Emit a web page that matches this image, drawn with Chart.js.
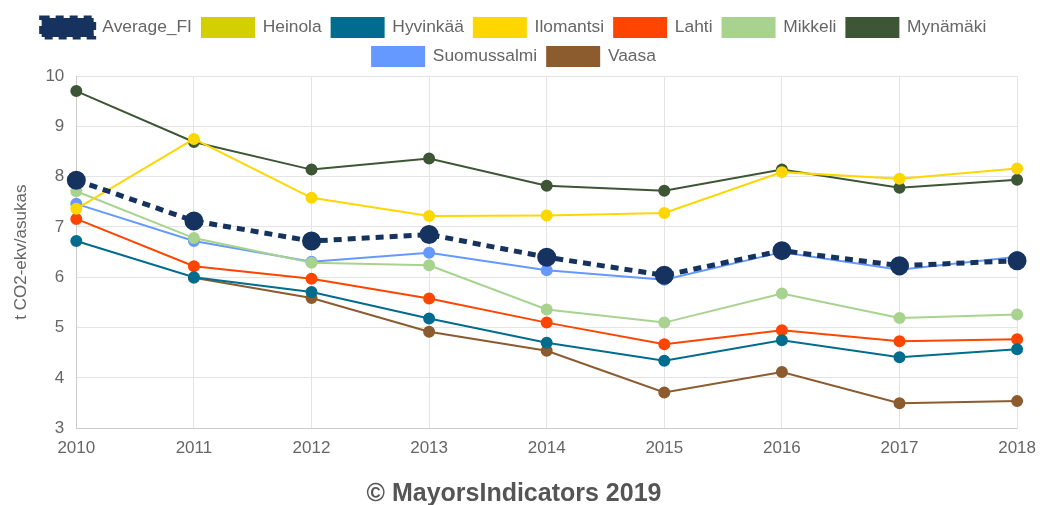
<!DOCTYPE html>
<html>
<head>
<meta charset="utf-8">
<script src="https://cdn.jsdelivr.net/npm/chart.js@4/dist/chart.umd.min.js"></script>
<style>
  body { margin: 0; background: #fff; }
  #wrap { width: 1040px; height: 505px; }
</style>
</head>
<body>
<div id="wrap"><canvas id="chart" width="1040" height="505"></canvas></div>
<script>
// Years on the x axis
const years = ['2010', '2011', '2012', '2013', '2014', '2015', '2016', '2017', '2018'];

// Emissions per resident (t CO2-ekv/asukas)
const averageFI   = [7.93, 7.12, 6.72, 6.85, 6.40, 6.04, 6.53, 6.23, 6.33];
const heinola     = [null, null, null, null, null, null, null, null, null];
const hyvinkaa    = [6.72, 6.00, 5.71, 5.18, 4.70, 4.34, 4.75, 4.41, 4.57];
const ilomantsi   = [7.36, 8.75, 7.58, 7.22, 7.23, 7.28, 8.09, 7.96, 8.16];
const lahti       = [7.16, 6.22, 5.97, 5.58, 5.10, 4.67, 4.95, 4.73, 4.77];
const mikkeli     = [7.71, 6.78, 6.29, 6.24, 5.36, 5.10, 5.68, 5.19, 5.26];
const mynamaki    = [9.70, 8.69, 8.14, 8.36, 7.82, 7.72, 8.14, 7.78, 7.94];
const suomussalmi = [7.46, 6.72, 6.31, 6.49, 6.14, 5.95, 6.50, 6.15, 6.41];
const vaasa       = [null, 5.99, 5.59, 4.92, 4.54, 3.71, 4.12, 3.50, 3.54];

const FONT = 'Arial, "Liberation Sans", sans-serif';

function cityLine(label, data, color) {
    return {
        label: label,
        data: data,
        borderColor: color,
        backgroundColor: color,
        pointBackgroundColor: color,
        pointBorderColor: color,
        borderWidth: 2,
        pointRadius: 5,
        pointHoverRadius: 6,
        fill: false,
        tension: 0
    };
}

const ctx = document.getElementById('chart').getContext('2d');

new Chart(ctx, {
    type: 'line',
    data: {
        labels: years,
        datasets: [
            {
                label: 'Average_FI',
                data: averageFI,
                borderColor: '#15335e',
                backgroundColor: '#15335e',
                pointBackgroundColor: '#15335e',
                pointBorderColor: '#15335e',
                borderWidth: 5,
                borderDash: [8, 6],
                pointRadius: 7,
                fill: false,
                tension: 0
            },
            cityLine('Heinola', heinola, '#d4cf00'),
            cityLine('Hyvinkää', hyvinkaa, '#006d8f'),
            cityLine('Ilomantsi', ilomantsi, '#ffd700'),
            cityLine('Lahti', lahti, '#ff4500'),
            cityLine('Mikkeli', mikkeli, '#a8d38f'),
            cityLine('Mynämäki', mynamaki, '#3d5636'),
            cityLine('Suomussalmi', suomussalmi, '#6699ff'),
            cityLine('Vaasa', vaasa, '#8c5b2e')
        ]
    },
    options: {
        responsive: false,
        animation: false,
        layout: { padding: { top: 8, right: 21, left: 9, bottom: 0 } },
        plugins: {
            legend: {
                position: 'top',
                labels: {
                    color: '#666',
                    boxWidth: 52,
                    boxHeight: 19,
                    padding: 10,
                    font: { family: FONT, size: 17.4 }
                }
            },
            title: {
                display: true,
                position: 'bottom',
                text: '© MayorsIndicators 2019',
                color: '#555',
                padding: { top: 16, bottom: 0 },
                font: { family: FONT, size: 25, weight: 'bold', lineHeight: 0.85 }
            },
            tooltip: { enabled: false }
        },
        scales: {
            x: {
                grid: { color: '#e4e4e4', drawTicks: false },
                ticks: {
                    color: '#666',
                    padding: 4,
                    maxRotation: 0,
                    font: { family: FONT, size: 17, lineHeight: 1.85 }
                }
            },
            y: {
                min: 3,
                max: 10,
                grid: { color: '#e4e4e4', drawTicks: false },
                ticks: {
                    stepSize: 1,
                    color: '#666',
                    padding: 12,
                    font: { family: FONT, size: 17 }
                },
                title: {
                    display: true,
                    text: 't CO2-ekv/asukas',
                    color: '#666',
                    padding: 2,
                    font: { family: FONT, size: 17 }
                }
            }
        }
    }
});
</script>
</body>
</html>
